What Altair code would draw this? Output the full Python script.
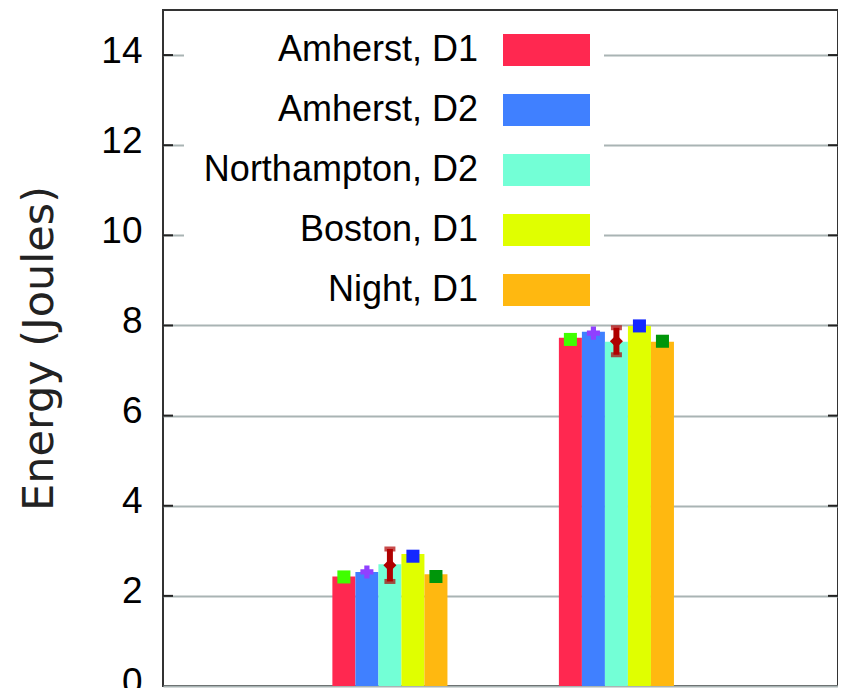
import altair as alt
import pandas as pd

# ---- data ----
groups = ["Run 1", "Run 2"]
series = ["Amherst, D1", "Amherst, D2", "Northampton, D2", "Boston, D1", "Night, D1"]
bar_colors = ["#ff2850", "#4080ff", "#73ffd6", "#e0ff00", "#ffb810"]
energy_run1 = [2.43, 2.53, 2.70, 2.93, 2.48]
energy_run2 = [7.73, 7.86, 7.64, 7.99, 7.64]

marker_run1 = [2.42, 2.53, 2.68, 2.88, 2.43]
marker_run2 = [7.69, 7.83, 7.65, 7.99, 7.65]
marker_colors = ["#40ff00", "#9040ff", "#b00000", "#1428ff", "#00960a"]
marker_shapes = ["square", "cross", "diamond", "square", "square"]

err_series = "Northampton, D2"
err_low = [2.32, 7.35]
err_high = [3.04, 7.95]

y_ticks = [0, 2, 4, 6, 8, 10, 12, 14]

# ---- tables ----
bars = pd.DataFrame(
    [{"group": groups[0], "series": s, "energy": v} for s, v in zip(series, energy_run1)]
    + [{"group": groups[1], "series": s, "energy": v} for s, v in zip(series, energy_run2)]
)
marks = pd.DataFrame(
    [{"group": groups[0], "series": s, "val": v, "mseries": "m" + s} for s, v in zip(series, marker_run1)]
    + [{"group": groups[1], "series": s, "val": v, "mseries": "m" + s} for s, v in zip(series, marker_run2)]
)
errs = pd.DataFrame({"group": groups, "series": [err_series] * 2, "lo": err_low, "hi": err_high})
ticks = pd.DataFrame({"t": y_ticks[1:]})

LABEL_FONT = "Liberation Sans"
W, H = 675, 676

x_enc = alt.X(
    "group:N",
    scale=alt.Scale(domain=groups, paddingInner=0.492, paddingOuter=0.736, align=0.508),
    axis=None,
)
xo_enc = alt.XOffset("series:N", scale=alt.Scale(domain=series))
y_scale = alt.Scale(domain=[0, 15], nice=False)

# wide swatch drawn to the right of the (nominal 32px) symbol slot
SWATCH = "M17.9375,-1H23.375V1H17.9375Z"

bar_layer = alt.Chart(bars).mark_bar(stroke=None).encode(
    x=x_enc,
    xOffset=xo_enc,
    y=alt.Y(
        "energy:Q",
        scale=y_scale,
        axis=alt.Axis(
            values=y_ticks,
            title="Energy (Joules)",
            titleFont="DejaVu Sans",
            titleFontSize=43,
            titleFontWeight="normal",
            titleColor="#222",
            titlePadding=39,
            labelFont=LABEL_FONT,
            labelFontSize=37,
            labelColor="black",
            labelPadding=21,
            labelOffset=-4,
            ticks=False,
            domain=False,
            grid=True,
            gridColor="#a9b4b4",
            gridWidth=2,
        ),
    ),
    color=alt.Color(
        "series:N",
        scale=alt.Scale(domain=series, range=bar_colors),
        legend=alt.Legend(
            title=None,
            orient="none",
            legendX=21,
            legendY=8,
            padding=14,
            fillColor="white",
            symbolType=SWATCH,
            symbolSize=1024,
            symbolStrokeWidth=0,
            symbolOffset=0,
            labelFont=LABEL_FONT,
            labelFontSize=36,
            labelColor="black",
            labelAlign="right",
            labelOffset=244,
            labelLimit=0,
            rowPadding=24,
        ),
    ),
)

err_rule = alt.Chart(errs).mark_rule(color="#b00000", strokeWidth=6).encode(
    x=x_enc, xOffset=xo_enc, y="lo:Q", y2="hi:Q"
)
err_lo = alt.Chart(errs).mark_tick(color="#b00000", size=11, thickness=5).encode(
    x=x_enc, xOffset=xo_enc, y="lo:Q"
)
err_hi = alt.Chart(errs).mark_tick(color="#b00000", size=11, thickness=5).encode(
    x=x_enc, xOffset=xo_enc, y="hi:Q"
)

marker_layer = alt.Chart(marks).mark_point(filled=True, opacity=1, size=170).encode(
    x=x_enc,
    xOffset=xo_enc,
    y="val:Q",
    color=alt.Color(
        "mseries:N",
        scale=alt.Scale(domain=["m" + s for s in series], range=marker_colors),
        legend=None,
    ),
    shape=alt.Shape(
        "series:N",
        scale=alt.Scale(domain=series, range=marker_shapes),
        legend=None,
    ),
)

tick_left = alt.Chart(ticks).mark_rule(color="#222", strokeWidth=2).encode(
    y="t:Q", x=alt.value(0), x2=alt.value(10)
)
tick_right = alt.Chart(ticks).mark_rule(color="#222", strokeWidth=2).encode(
    y="t:Q", x=alt.value(W - 10), x2=alt.value(W)
)

chart = (
    alt.layer(bar_layer, tick_left, tick_right, err_rule, err_lo, err_hi, marker_layer)
    .resolve_scale(color="independent", shape="independent")
    .properties(
        width=W,
        height=H,
        background="white",
        autosize=alt.AutoSizeParams(type="none"),
        padding={"left": 155, "top": 2, "right": 0, "bottom": 2},
    )
    .configure_view(stroke="#333", strokeWidth=2)
)

chart.save("out.html", embed_options={"renderer": "svg", "actions": False})
